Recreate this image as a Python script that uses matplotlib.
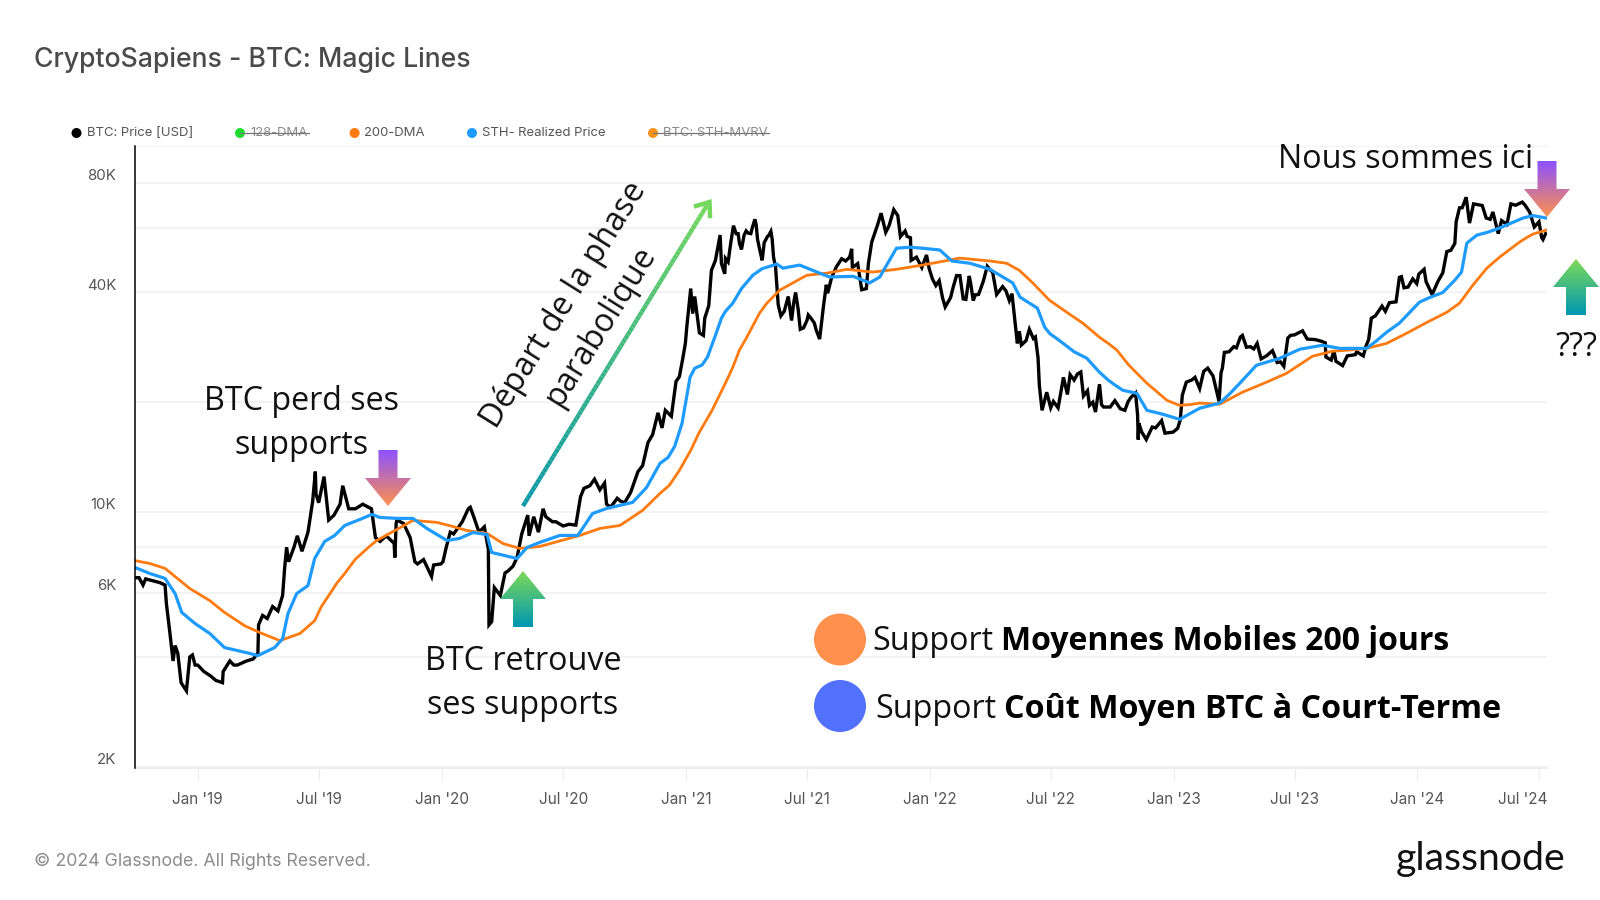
import numpy as np
import pandas as pd
import matplotlib
matplotlib.use("Agg")
import matplotlib.pyplot as plt
import matplotlib.transforms as mtransforms
from matplotlib.collections import LineCollection
from matplotlib.colors import to_rgb
from matplotlib.patches import Circle, PathPatch
from matplotlib.path import Path
from matplotlib.ticker import NullLocator

# BTC price (month-day, USD)
days_2018 = ["09-29", "10-05", "10-11", "10-15", "10-25", "11-05", "11-13", "11-15", "11-20", "11-25",
             "11-28", "12-02", "12-07", "12-15", "12-20", "12-24", "12-28"]
usd_2018 = [6600, 6600, 6300, 6550, 6480, 6400, 6300, 5600, 4700, 3900,
            4300, 4100, 3400, 3230, 4000, 4050, 3800]
days_2019 = ["01-01", "01-10", "01-20", "01-28", "02-07", "02-08", "02-18", "02-24", "03-01", "03-15",
             "03-25", "04-01", "04-02", "04-08", "04-15", "04-23", "05-01", "05-08", "05-11", "05-14",
             "05-17", "05-25", "05-30", "06-06", "06-15", "06-22", "06-26", "06-27", "07-01", "07-09",
             "07-16", "07-24", "08-02", "08-06", "08-15", "08-25", "09-05", "09-18", "09-24", "10-01",
             "10-10", "10-22", "10-23", "10-25", "10-26", "11-05", "11-15", "11-22", "11-26", "12-05",
             "12-17", "12-20", "12-31"]
usd_2019 = [3800, 3650, 3550, 3450, 3400, 3650, 3900, 3800, 3800, 3900,
            3950, 4100, 4900, 5200, 5100, 5500, 5350, 5900, 7000, 8000,
            7300, 8000, 8600, 7800, 8800, 10700, 12900, 11200, 10600, 12500,
            9500, 9800, 10500, 11800, 10200, 10200, 10500, 10200, 8500, 8300,
            8600, 8200, 7500, 9300, 9500, 9300, 8500, 7300, 7200, 7400,
            6650, 7150, 7200]
days_2020 = ["01-03", "01-08", "01-14", "01-19", "02-01", "02-10", "02-13", "02-19", "02-26", "03-05",
             "03-11", "03-12", "03-16", "03-20", "03-29", "04-05", "04-10", "04-17", "04-23", "04-30",
             "05-09", "05-11", "05-18", "05-25", "06-01", "06-05", "06-15", "06-20", "07-01", "07-10",
             "07-20", "07-27", "08-01", "08-10", "08-17", "08-25", "09-01", "09-04", "09-10", "09-20",
             "09-25", "10-01", "10-10", "10-21", "10-28", "11-05", "11-12", "11-20", "11-26", "12-01",
             "12-10", "12-17", "12-22", "12-27", "12-31"]
usd_2020 = [7300, 8000, 8800, 8700, 9400, 10200, 10300, 9600, 8800, 9100,
            7900, 4900, 5000, 6200, 5900, 6800, 6900, 7100, 7500, 8700,
            9800, 8600, 9700, 8800, 10200, 9700, 9400, 9400, 9150, 9250,
            9200, 11000, 11600, 11800, 12300, 11500, 12000, 10500, 10300, 10900,
            10700, 10600, 11300, 12900, 13400, 15500, 16300, 18700, 17000, 19000,
            18300, 22800, 23500, 26300, 29000]
days_2021 = ["01-02", "01-08", "01-11", "01-14", "01-21", "01-27", "01-29", "02-04", "02-08", "02-14",
             "02-21", "02-23", "02-28", "03-01", "03-05", "03-09", "03-13", "03-17", "03-20", "03-22",
             "03-25", "03-29", "04-01", "04-04", "04-08", "04-10", "04-14", "04-16", "04-18", "04-22",
             "04-25", "04-28", "05-03", "05-05", "05-08", "05-10", "05-12", "05-15", "05-19", "05-23",
             "05-28", "06-03", "06-08", "06-11", "06-14", "06-18", "06-21", "06-26", "07-01", "07-03",
             "07-07", "07-12", "07-15", "07-20", "07-26", "07-30", "08-01", "08-07", "08-14", "08-22",
             "08-28", "09-03", "09-06", "09-07", "09-15", "09-21", "09-28", "10-01", "10-06", "10-15",
             "10-20", "10-27", "11-01", "11-08", "11-14", "11-18", "11-25", "11-28", "12-03", "12-04",
             "12-12", "12-20", "12-27", "12-31"]
usd_2021 = [32000, 41000, 35000, 39000, 31000, 30500, 34000, 36800, 46000, 49000,
            57500, 48000, 45000, 49600, 48500, 54800, 61000, 58000, 58000, 54500,
            52500, 57500, 59000, 58200, 58000, 60000, 63500, 61400, 56000, 51700,
            49000, 54800, 57000, 57400, 58800, 55900, 50000, 47000, 37000, 34500,
            35500, 39000, 33500, 37300, 40000, 35800, 31700, 32000, 33500, 34700,
            34000, 33000, 31500, 29800, 37000, 42000, 39800, 44000, 47000, 49500,
            48800, 50000, 52700, 46800, 48000, 40700, 41000, 48000, 55000, 61500,
            66000, 58500, 61000, 67500, 65000, 56900, 59000, 57000, 56500, 49000,
            50000, 46800, 50700, 46500]
days_2022 = ["01-05", "01-10", "01-15", "01-20", "01-24", "02-01", "02-05", "02-10", "02-15", "02-20",
             "02-24", "03-01", "03-03", "03-07", "03-10", "03-15", "03-22", "03-28", "04-02", "04-05",
             "04-11", "04-20", "04-25", "04-30", "05-04", "05-08", "05-12", "05-15", "05-18", "05-25",
             "05-30", "06-05", "06-08", "06-12", "06-14", "06-18", "06-25", "07-01", "07-05", "07-12",
             "07-16", "07-20", "07-26", "07-30", "08-05", "08-10", "08-15", "08-19", "08-25", "08-28",
             "09-02", "09-06", "09-12", "09-15", "09-18", "09-28", "10-05", "10-13", "10-20", "10-25",
             "10-29", "11-05", "11-08", "11-09", "11-10", "11-14", "11-21", "11-30", "12-05", "12-14",
             "12-19", "12-31"]
usd_2022 = [43500, 41800, 43100, 38700, 36500, 38700, 41400, 44500, 44500, 38400,
            38300, 44400, 42500, 38000, 39400, 39500, 42900, 47200, 46000, 45500,
            39500, 41500, 40400, 38000, 39700, 34000, 29000, 31300, 28700, 29500,
            31700, 29900, 30200, 26500, 22200, 19000, 21300, 19300, 20100, 19300,
            21200, 23400, 21000, 23800, 23000, 23900, 24200, 20800, 21500, 19600,
            20000, 18800, 22400, 19700, 19400, 19400, 20200, 19200, 19000, 20100,
            20600, 21200, 18500, 15800, 17500, 16600, 15800, 17100, 17000, 17800,
            16450, 16550]
days_2023 = ["01-07", "01-11", "01-14", "01-20", "01-28", "02-02", "02-09", "02-15", "02-21", "03-01",
             "03-10", "03-13", "03-15", "03-18", "03-25", "04-01", "04-05", "04-11", "04-14", "04-20",
             "04-26", "05-01", "05-06", "05-12", "05-20", "05-29", "06-05", "06-10", "06-15", "06-21",
             "06-25", "07-01", "07-13", "07-20", "08-01", "08-10", "08-16", "08-17", "08-25", "08-29",
             "09-01", "09-11", "09-18", "09-30", "10-02", "10-12", "10-16", "10-20", "10-24", "10-30",
             "11-09", "11-14", "11-20", "11-30", "12-05", "12-08", "12-12", "12-18", "12-25", "12-31"]
usd_2023 = [16950, 17900, 20900, 22700, 23000, 23400, 21800, 24300, 24800, 23600,
            20100, 24100, 24800, 27400, 27500, 28400, 28200, 30200, 30500, 28300,
            28400, 28000, 29000, 26300, 26800, 27700, 25700, 25800, 25100, 30000,
            30500, 30600, 31400, 29800, 29700, 29400, 29100, 26600, 26100, 27700,
            25900, 25200, 26800, 27000, 27500, 26800, 28500, 29700, 34000, 34500,
            36700, 35500, 37500, 37700, 44000, 44200, 41200, 41400, 43600, 42300]
days_2024 = ["01-03", "01-11", "01-14", "01-23", "02-01", "02-08", "02-14", "02-20", "02-26", "02-28",
             "03-04", "03-08", "03-14", "03-19", "03-25", "04-01", "04-07", "04-13", "04-19", "04-23",
             "05-01", "05-06", "05-14", "05-20", "05-27", "06-06", "06-10", "06-17", "06-24", "07-01",
             "07-05", "07-07", "07-09", "07-11"]
usd_2024 = [44900, 46300, 42800, 39500, 43000, 45300, 51800, 52200, 54500, 62500,
            68300, 68300, 73000, 62000, 70000, 69600, 69300, 64000, 63500, 66500,
            58000, 63000, 61500, 70000, 69400, 70800, 69500, 66500, 60500, 62500,
            56600, 55900, 57000, 58000]

# 200-DMA
dma_dates = ["2018-09-28", "2018-10-21", "2018-11-13", "2018-12-20", "2019-01-19", "2019-02-10", "2019-03-12",
             "2019-04-04", "2019-05-04", "2019-06-03", "2019-06-25", "2019-07-05", "2019-07-18", "2019-07-28",
             "2019-08-09", "2019-08-25", "2019-09-15", "2019-09-26", "2019-10-26", "2019-11-19", "2019-12-25",
             "2020-01-18", "2020-02-08", "2020-03-09", "2020-04-02", "2020-04-27", "2020-05-27", "2020-07-26",
             "2020-08-25", "2020-09-24", "2020-10-28", "2020-11-23", "2020-12-07", "2020-12-22", "2021-01-08",
             "2021-01-20", "2021-02-09", "2021-03-03", "2021-03-12", "2021-03-22", "2021-04-02", "2021-04-21",
             "2021-05-02", "2021-05-21", "2021-06-20", "2021-07-01", "2021-07-31", "2021-08-30", "2021-10-07",
             "2021-11-12", "2021-12-21", "2022-02-15", "2022-04-01", "2022-04-26", "2022-05-15", "2022-06-04",
             "2022-06-29", "2022-07-25", "2022-08-18", "2022-09-12", "2022-09-25", "2022-10-08", "2022-10-25",
             "2022-11-08", "2022-11-22", "2022-12-22", "2023-01-10", "2023-01-25", "2023-02-09", "2023-03-11",
             "2023-04-14", "2023-05-20", "2023-06-19", "2023-07-28", "2023-08-27", "2023-09-20", "2023-10-17",
             "2023-11-16", "2023-12-16", "2024-01-15", "2024-02-14", "2024-03-04", "2024-03-24", "2024-04-14",
             "2024-05-03", "2024-06-02", "2024-06-12", "2024-06-22", "2024-07-12"]
dma_values = [7360, 7220, 7000, 6165, 5710, 5300, 4875,
              4665, 4435, 4640, 5030, 5500, 5970, 6370,
              6780, 7420, 8040, 8350, 8950, 9480, 9360,
              9120, 8890, 8730, 8190, 7940, 8040, 8620,
              9010, 9180, 10100, 11240, 11830, 13000, 14750,
              16430, 19000, 22970, 24930, 27800, 30150, 35100,
              37380, 40560, 43500, 44600, 45200, 46300, 45500,
              46300, 47550, 49700, 48800, 48100, 46000, 42500,
              38100, 35300, 32950, 30150, 29000, 27800, 25400,
              23900, 22540, 20240, 19600, 19700, 19890, 19750,
              21300, 22690, 24000, 26740, 27600, 27800, 28100,
              29000, 30930, 33100, 35300, 37380, 41900, 46650,
              50000, 55000, 56500, 57850, 59300]

# STH realized price
sth_dates = ["2018-09-29", "2018-10-21", "2018-11-13", "2018-11-28", "2018-12-08", "2018-12-28", "2019-01-19",
             "2019-02-10", "2019-03-20", "2019-04-01", "2019-04-26", "2019-05-08", "2019-05-16", "2019-05-29",
             "2019-06-15", "2019-06-25", "2019-07-10", "2019-07-25", "2019-08-09", "2019-09-01", "2019-09-15",
             "2019-09-20", "2019-09-30", "2019-10-26", "2019-11-19", "2019-12-10", "2020-01-09", "2020-01-28",
             "2020-02-17", "2020-03-09", "2020-03-16", "2020-04-23", "2020-05-08", "2020-05-27", "2020-06-26",
             "2020-07-23", "2020-08-14", "2020-09-04", "2020-10-13", "2020-11-03", "2020-11-23", "2020-12-05",
             "2020-12-15", "2020-12-26", "2021-01-07", "2021-01-14", "2021-01-25", "2021-02-02", "2021-02-14",
             "2021-02-23", "2021-03-01", "2021-03-12", "2021-03-25", "2021-04-11", "2021-04-25", "2021-05-17",
             "2021-05-26", "2021-06-20", "2021-07-20", "2021-08-04", "2021-09-08", "2021-10-03", "2021-10-18",
             "2021-11-12", "2021-12-02", "2021-12-21", "2022-01-16", "2022-02-03", "2022-03-02", "2022-04-01",
             "2022-05-05", "2022-05-16", "2022-06-11", "2022-06-22", "2022-06-30", "2022-07-10", "2022-07-25",
             "2022-08-05", "2022-08-24", "2022-09-12", "2022-09-25", "2022-10-05", "2022-10-17", "2022-11-07",
             "2022-11-22", "2022-12-16", "2023-01-10", "2023-02-09", "2023-03-11", "2023-03-25", "2023-04-10",
             "2023-05-05", "2023-06-09", "2023-07-09", "2023-08-12", "2023-09-07", "2023-10-17", "2023-11-01",
             "2023-11-16", "2023-12-05", "2024-01-04", "2024-01-20", "2024-02-08", "2024-02-26", "2024-03-07",
             "2024-03-15", "2024-03-30", "2024-04-15", "2024-05-03", "2024-06-07", "2024-06-22", "2024-07-12"]
sth_values = [7040, 6780, 6570, 5970, 5300, 4940, 4640,
              4245, 4090, 4035, 4245, 4490, 5260, 5970,
              6280, 7450, 8300, 8620, 9180, 9540, 9780,
              9840, 9660, 9600, 9600, 9010, 8350, 8460,
              8780, 8670, 7740, 7450, 7990, 8250, 8620,
              8620, 9900, 10220, 10620, 11680, 13590, 14100,
              15130, 17500, 23410, 24780, 25300, 26570, 30500,
              34000, 35500, 37380, 41000, 44600, 46500, 47850,
              46650, 47550, 45200, 44100, 44300, 42500, 44100,
              52900, 53250, 52900, 52300, 48800, 48100, 46300,
              42500, 38850, 36230, 32100, 30800, 29900, 28500,
              27500, 26400, 24170, 23000, 22300, 21560, 21160,
              19000, 18530, 17950, 19250, 19890, 21000, 22540,
              25260, 26400, 27950, 28660, 28100, 28100, 29500,
              31130, 32950, 37620, 38800, 40000, 43240, 45500,
              54640, 57460, 58500, 60100, 64000, 65000, 64000]

y_ticks = [4000, 6000, 8000, 10000, 20000, 40000, 60000, 80000, 2000]
y_tick_labels = ["", "6K", "", "10K", "", "40K", "", "80K", "2K"]
x_ticks = ["2019-01-01", "2019-07-01", "2020-01-01", "2020-07-01", "2021-01-01", "2021-07-01",
           "2022-01-01", "2022-07-01", "2023-01-01", "2023-07-01", "2024-01-01", "2024-07-01"]
x_tick_labels = ["Jan '19", "Jul '19", "Jan '20", "Jul '20", "Jan '21", "Jul '21",
                 "Jan '22", "Jul '22", "Jan '23", "Jul '23", "Jan '24", "Jul '24"]

legend_names = ["BTC: Price [USD]", "128-DMA", "200-DMA", "STH- Realized Price", "BTC: STH-MVRV"]

price_dates = []
price_usd = []
for year, days, usd in [(2018, days_2018, usd_2018), (2019, days_2019, usd_2019), (2020, days_2020, usd_2020),
                        (2021, days_2021, usd_2021), (2022, days_2022, usd_2022), (2023, days_2023, usd_2023),
                        (2024, days_2024, usd_2024)]:
    price_dates += [f"{year}-{d}" for d in days]
    price_usd += usd

W, H = 1600, 900
TEXT = "#555555"
fig = plt.figure(figsize=(16, 9), dpi=100)
ax = fig.add_axes([135 / W, 1 - 767.5 / H, 1412 / W, 621.5 / H])

ax.plot(pd.to_datetime(price_dates), price_usd, color="black", lw=2.4, solid_joinstyle="miter", zorder=3)
ax.plot(pd.to_datetime(dma_dates), dma_values, color="#FF7A0F", lw=2.0, zorder=4)
ax.plot(pd.to_datetime(sth_dates), sth_values, color="#1E9BFF", lw=2.3, zorder=5)

ax.set_yscale("log")
ax.set_ylim(1990, 100900)
ax.set_xlim(pd.Timestamp("2018-09-29"), pd.Timestamp("2024-07-13"))
ax.set_yticks(y_ticks)
ax.set_yticklabels(y_tick_labels)
ax.yaxis.set_minor_locator(NullLocator())
ax.set_xticks(pd.to_datetime(x_ticks))
ax.set_xticklabels(x_tick_labels)
ax.grid(axis="y", color="#f3f3f3", lw=1.5, zorder=0)
ax.tick_params(axis="y", length=0, pad=13.5, labelsize=10.8, labelcolor=TEXT)
ax.tick_params(axis="x", length=9.5, width=1, color="#eeeeee", pad=8.5, labelsize=11, labelcolor=TEXT)
ax.spines["right"].set_visible(False)
ax.spines["top"].set_color("#f3f3f3")
ax.spines["bottom"].set_color("#eeeeee")
ax.spines["bottom"].set_linewidth(1.5)
ax.spines["left"].set_color("black")
ax.spines["left"].set_linewidth(1.1)
ax.spines["left"].set_zorder(6)

# y labels sit a little above their gridlines
up = mtransforms.ScaledTranslation(0, 8 / 100, fig.dpi_scale_trans)
for lab in ax.get_yticklabels():
    lab.set_fontfamily("Inter")
    lab.set_transform(lab.get_transform() + up)
for lab in ax.get_xticklabels():
    lab.set_fontfamily("Inter")
last = ax.get_xticklabels()[-1]
last.set_ha("right")
last.set_transform(last.get_transform() + mtransforms.ScaledTranslation(9 / 100, 0, fig.dpi_scale_trans))

# overlay in pixel coords for everything pasted on top of the chart
ov = fig.add_axes([0, 0, 1, 1], zorder=10)
ov.patch.set_alpha(0)
ov.axis("off")


def grad_poly(pts, c_top, c_bot):
    xs = [p[0] for p in pts]
    ys = [p[1] for p in pts]
    t = np.linspace(0, 1, 256)[:, None, None]
    img = (1 - t) * np.array(to_rgb(c_top))[None, None, :] + t * np.array(to_rgb(c_bot))[None, None, :]
    im = ov.imshow(img, extent=[min(xs), max(xs), max(ys), min(ys)], aspect="auto", origin="upper", zorder=3)
    patch = PathPatch(Path(pts + [pts[0]]), transform=ov.transData, fc="none", ec="none")
    ov.add_patch(patch)
    im.set_clip_path(patch)


def down_arrow(cx, top, base, tip, half_shaft, half_head):
    grad_poly([(cx - half_shaft, top), (cx + half_shaft, top), (cx + half_shaft, base), (cx + half_head, base),
               (cx, tip), (cx - half_head, base), (cx - half_shaft, base)], "#8C52FF", "#FF914D")


def up_arrow(cx, tip, base, bottom, half_shaft, half_head):
    grad_poly([(cx, tip), (cx + half_head, base), (cx + half_shaft, base), (cx + half_shaft, bottom),
               (cx - half_shaft, bottom), (cx - half_shaft, base), (cx - half_head, base)], "#7ED957", "#0097B2")


down_arrow(388, 450, 478, 506, 9.5, 23)
up_arrow(523, 571, 599, 627, 10, 23)
down_arrow(1547, 161, 189, 217, 9.5, 23)
up_arrow(1576, 259, 287, 315, 10, 23)

# diagonal arrow, gradient done with short segments
x0, y0, x1, y1 = 523, 506, 709, 202
n = 80
t = np.linspace(0, 1, n + 1)
seg_x = x0 + (x1 - x0) * t
seg_y = y0 + (y1 - y0) * t
segs = [[(seg_x[i], seg_y[i]), (seg_x[i + 1], seg_y[i + 1])] for i in range(n)]
c0, c1 = np.array(to_rgb("#0B98A8")), np.array(to_rgb("#74D85C"))
cols = [(1 - v) * c0 + v * c1 for v in t[:-1]]
ov.add_collection(LineCollection(segs, colors=cols, linewidths=3.2, capstyle="butt", zorder=3))
ov.plot([696, 709.5, 710], [206, 202, 216], color="#74D85C", lw=3.2, solid_joinstyle="miter", zorder=3)

ov.add_patch(Circle((840, 639.5), 26, fc="#FF914D", ec="none", zorder=3))
ov.add_patch(Circle((840, 706), 26, fc="#5271FF", ec="none", zorder=3))

ov.set_xlim(0, W)
ov.set_ylim(H, 0)

OS = "Open Sans"
big = 23.2
for txt, x, y in [("BTC perd ses", 301, 402), ("supports", 301, 446), ("BTC retrouve", 523, 661),
                  ("ses supports", 523, 705), ("???", 1576, 347)]:
    ov.text(x, y, txt, family=OS, fontsize=big, ha="center", va="center", color="#111111", zorder=4)
ov.text(1533, 160, "Nous sommes ici", family=OS, fontsize=big, ha="right", va="center", color="#111111", zorder=4)
ov.text(564, 305, "Départ de la phase", family=OS, fontsize=big, rotation=58, rotation_mode="anchor",
        ha="center", va="center", color="#111111", zorder=4)
ov.text(600, 326, "parabolique", family=OS, fontsize=big, rotation=58, rotation_mode="anchor",
        ha="center", va="center", color="#111111", zorder=4)

ov.text(872, 642, "Support", family=OS, fontsize=23.2, va="center", color="#111111", zorder=4)
ov.text(1001, 642, "Moyennes Mobiles 200 jours", family=OS, weight="bold", fontsize=23, va="center", color="black", zorder=4)
ov.text(875, 709, "Support", family=OS, fontsize=23.2, va="center", color="#111111", zorder=4)
ov.text(1004, 709, "Coût Moyen BTC à Court-Terme", family=OS, weight="bold", fontsize=23.2, va="center", color="black", zorder=4)

# title, legend, footer
ov.text(34, 60, "CryptoSapiens - BTC: Magic Lines", family="Inter", weight="medium", fontsize=19.2, va="center", color="#4a4a4a")
dot_x = [76.5, 240, 354.6, 472, 653]
dot_c = ["black", "#1FDB2F", "#FF7A0F", "#1E9BFF", "#F7931A"]
text_x = [87, 250, 364, 482, 663]
text_end = [194, 309, 425.5, 607, 769]
struck = [False, True, False, False, True]
for name, dx, c, tx, te, off in zip(legend_names, dot_x, dot_c, text_x, text_end, struck):
    ov.add_patch(Circle((dx, 133), 5, fc=c, ec="none", zorder=3))
    ov.text(tx, 133.5, name, family="Inter", fontsize=9.45, va="center", color="#8a8a8a" if off else TEXT)
    if off:
        ov.plot([dx, te], [133, 133], color="#777777", lw=0.9, zorder=4)

ov.text(34, 861, "© 2024 Glassnode. All Rights Reserved.", family="Inter", fontsize=12.8, va="center", color="#8c8c8c")
ov.text(1396, 859, "glassnode", family="Lato", fontsize=28.3, va="center", color="#111111")

fig.savefig("out.png", dpi=100)
